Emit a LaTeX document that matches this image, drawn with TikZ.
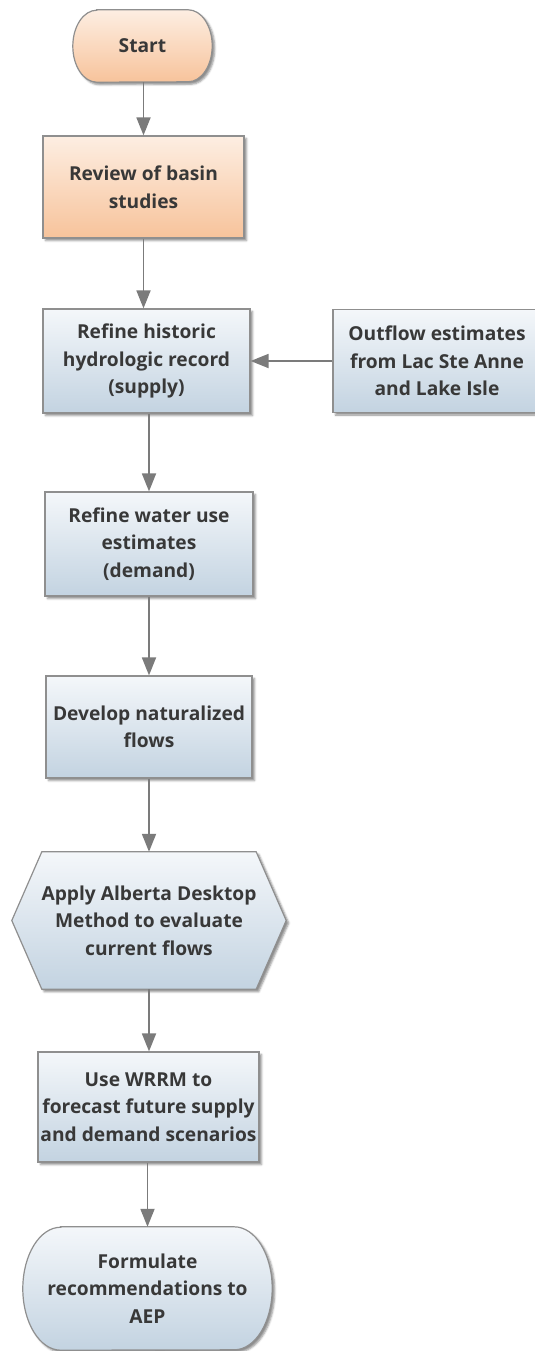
\documentclass[tikz,border=0pt]{standalone}
\usepackage{fontspec}
\setmainfont{Open Sans}
\usetikzlibrary{arrows.meta,shadows.blur,backgrounds,calc}
\definecolor{orTop}{HTML}{FDEEE2}
\definecolor{orBot}{HTML}{F7C39B}
\definecolor{blTop}{HTML}{F4F7FA}
\definecolor{blBot}{HTML}{C3D3E1}
\definecolor{edgec}{HTML}{8F8F8F}
\definecolor{arrowc}{HTML}{7B7B7B}
\definecolor{txtc}{HTML}{383838}
\tikzset{
  lbl/.style={font=\bfseries\fontsize{19.2}{27.5}\selectfont, text=txtc, align=center, inner sep=0pt},
  boxsh/.style={blur shadow={shadow xshift=2.5pt, shadow yshift=-2.5pt, shadow blur radius=2pt, shadow opacity=45}},
  blfill/.style={draw=edgec, line width=1.2pt, top color=blTop, bottom color=blBot, boxsh},
  orfill/.style={draw=edgec, line width=1.2pt, top color=orTop, bottom color=orBot, boxsh},
  blbox/.style={lbl, rectangle, blfill},
  orbox/.style={lbl, rectangle, orfill},
  arr/.style={draw=arrowc, line width=1.8pt, -{Triangle[width=14pt,length=18pt]}},
}
\begin{document}
\begin{tikzpicture}[x=1pt,y=-1pt]
\useasboundingbox (0,0) rectangle (535,1351);

% nodes
\node[lbl, minimum width=139pt, minimum height=72pt] (start) at (142.5,46) {Start};
\node[orbox, minimum width=201pt, minimum height=102pt] (review) at (143.5,187) {Review of basin\\studies};
\node[blbox, minimum width=207pt, minimum height=104pt] (refine) at (146.5,361) {Refine historic\\hydrologic record\\(supply)};
\node[blbox, minimum width=208pt, minimum height=103pt] (outflow) at (437,361) {Outflow estimates\\from Lac Ste Anne\\and Lake Isle};
\node[blbox, minimum width=208pt, minimum height=104pt] (water) at (149,544) {Refine water use\\estimates\\(demand)};
\node[blbox, minimum width=206pt, minimum height=102pt] (develop) at (149,727) {Develop naturalized\\flows};
\node[lbl, minimum width=274pt, minimum height=137pt] (hex) at (149,920.5) {Apply Alberta Desktop\\Method to evaluate\\current flows};
\node[blbox, minimum width=221pt, minimum height=110pt] (wrrm) at (148.5,1107) {Use WRRM to\\forecast future supply\\and demand scenarios};
\node[lbl, minimum width=249pt, minimum height=123pt] (formulate) at (147.5,1288.5) {Formulate\\recommendations to\\AEP};

% custom shapes behind text
\begin{scope}[on background layer]
  \path[orfill] ([xshift=24pt]start.north west) -- ([xshift=-24pt]start.north east)
    arc[start angle=90, end angle=-90, x radius=24pt, y radius=36pt]
    -- ([xshift=24pt]start.south west)
    arc[start angle=270, end angle=90, x radius=24pt, y radius=36pt] -- cycle;
  \path[blfill] (hex.west) -- ([xshift=30pt]hex.north west) -- ([xshift=-30pt]hex.north east)
    -- (hex.east) -- ([xshift=-30pt]hex.south east) -- ([xshift=30pt]hex.south west) -- cycle;
  \path[blfill] ([xshift=38pt]formulate.north west) -- ([xshift=-38pt]formulate.north east)
    arc[start angle=90, end angle=-90, x radius=38pt, y radius=61.5pt]
    -- ([xshift=38pt]formulate.south west)
    arc[start angle=270, end angle=90, x radius=38pt, y radius=61.5pt] -- cycle;
\end{scope}

% connectors
\draw[arr] (start.south -| review.north) -- (review.north);
\draw[arr] (review.south) -- (review.south |- refine.north);
\draw[arr] (refine.south -| water.north) -- (water.north);
\draw[arr] (water.south) -- (develop.north);
\draw[arr] (develop.south) -- (hex.north);
\draw[arr] (hex.south) -- (hex.south |- wrrm.north);
\draw[arr] (wrrm.south -| formulate.north) -- (formulate.north);
\draw[arr] (outflow.west) -- (outflow.west -| refine.east);
\end{tikzpicture}
\end{document}
